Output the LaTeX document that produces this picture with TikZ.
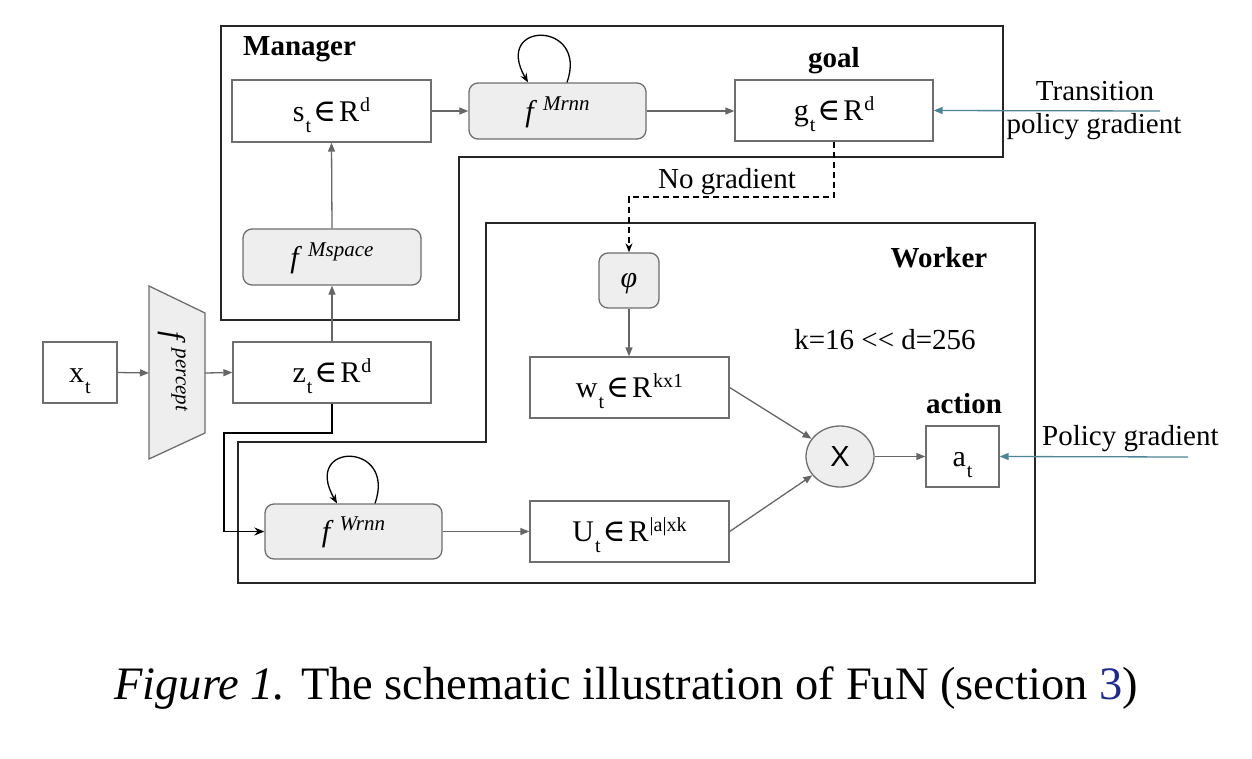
\documentclass[tikz,border=0pt]{standalone}
\usepackage{fontspec}
\setmainfont{Liberation Serif}
\newfontfamily\sansX{Liberation Sans}
\newfontfamily\symX{DejaVu Serif}
\usetikzlibrary{arrows.meta,shapes.geometric}
\definecolor{boxgray}{HTML}{6E6E6E}
\definecolor{fillgray}{HTML}{EEEEEE}
\definecolor{arrgray}{HTML}{666666}
\definecolor{pgblue}{HTML}{4E8494}
\definecolor{capblue}{HTML}{1F2A8A}
\newcommand{\mysub}[1]{\hspace{1pt}\raisebox{-11pt}{\fontsize{20}{20}\selectfont #1}}
\newcommand{\mysup}[1]{\hspace{1pt}\raisebox{10pt}{\fontsize{20}{20}\selectfont #1}}
\newcommand{\myin}{\hspace{2pt}{\symX\fontsize{31}{31}\selectfont ∈}\hspace{3pt}}
\newcommand{\fsup}[1]{\textit{f}\hspace{6pt}\raisebox{11pt}{\fontsize{21}{21}\selectfont\itshape #1}}
\tikzset{
  plainbox/.style={draw=boxgray, line width=1.3pt, fill=white, inner sep=0pt,
    font=\fontsize{30}{30}\selectfont, text height=20pt, text depth=0pt},
  rnnbox/.style={plainbox, fill=fillgray, rounded corners=9pt},
  arr/.style={draw=arrgray, line width=1.3pt, -{Triangle[length=9pt,width=7pt]}},
  gradarr/.style={draw=pgblue, line width=1.3pt, -{Triangle[length=9pt,width=7pt]}},
  mgrline/.style={draw=black!85, line width=1.8pt},
  looparr/.style={draw=black, line width=1.3pt, -{Stealth[length=9pt,width=7pt]}},
  lbl/.style={font=\fontsize{29}{29}\selectfont, anchor=base, inner sep=0pt},
  blbl/.style={font=\fontsize{29}{29}\selectfont\bfseries, anchor=base, inner sep=0pt},
}
\begin{document}
\begin{tikzpicture}[x=1pt, y=-1pt]
\useasboundingbox (0,0) rectangle (1252,758);

% containers
\draw[mgrline] (221,26) -- (1003,26) -- (1003,157) -- (459,157) -- (459,320) -- (221,320) -- cycle;
\draw[mgrline] (486,223) -- (1035,223) -- (1035,583) -- (238,583) -- (238,442) -- (486,442) -- cycle;

\node[blbl, anchor=base west] (mgr) at (243,55) {Manager};
\node[blbl] (goallbl) at (834,67) {goal};
\node[blbl] (wkr) at (939,267) {Worker};
\node[blbl] (actlbl) at (964,413) {action};

% manager nodes
\node[plainbox, minimum width=199pt, minimum height=62pt] (s) at (331.5,111) {s\mysub{t}\myin R\mysup{d}};
\node[rnnbox, minimum width=177pt, minimum height=56pt] (mrnn) at (557.5,111) {\fsup{Mrnn}};
\node[plainbox, minimum width=198pt, minimum height=61pt] (g) at (834,110.5) {g\mysub{t}\myin R\mysup{d}};
\node[rnnbox, minimum width=178pt, minimum height=56pt] (msp) at (332,257) {\fsup{Mspace}};

% input
\node[plainbox, minimum width=74pt, minimum height=61pt] (xt) at (80,372.5) {x\mysub{t}};
\draw[draw=boxgray, fill=fillgray, line width=1.3pt] (149,286) -- (205,313) -- (205,433) -- (149,459) -- cycle;
\node[rotate=-90, font=\fontsize{30}{30}\selectfont, inner sep=0pt] (ptxt) at (173,371) {\fsup{percept}};
\coordinate (pin) at (149,373);
\coordinate (pout) at (205,373);
\node[plainbox, minimum width=198pt, minimum height=61pt] (z) at (332,372.5) {z\mysub{t}\myin R\mysup{d}};

% worker nodes
\node[rnnbox, minimum width=60pt, minimum height=55pt, text height=14pt] (phi) at (629,280.5) {\itshape φ};
\node[plainbox, minimum width=199pt, minimum height=61pt] (w) at (629.5,387.5) {w\mysub{t}\myin R\mysup{kx1}};
\node[plainbox, minimum width=199pt, minimum height=61pt] (U) at (629.5,531.5) {U\mysub{t}\myin R\mysup{|a|xk}};
\node[rnnbox, minimum width=177pt, minimum height=55pt] (wrnn) at (353.5,531.5) {\fsup{Wrnn}};
\node[ellipse, draw=boxgray, fill=fillgray, line width=1.3pt, minimum width=68pt, minimum height=61pt, inner sep=0pt,
  font=\sansX\fontsize{29}{29}\selectfont] (X) at (840,456.5) {X};
\node[plainbox, minimum width=73pt, minimum height=61pt] (a) at (962.5,456.5) {a\mysub{t}};

\node[lbl] (kd) at (885,349) {k=16 <\kern0pt< d=256};
\node[lbl] (nog) at (727,188) {No gradient};
\node[lbl] (tr1) at (1095,100) {Transition};
\node[lbl] (tr2) at (1094,133) {policy gradient};
\node[lbl, anchor=base west] (pg) at (1042,445) {Policy gradient};

% connectors
\draw[arr] (xt.east) -- (pin);
\draw[arr] (pout) -- (z.west);
\draw[arr] (z.north) -- (msp.south);
\draw[arr] (msp.north) -- (s.south);
\draw[arr] (s.east) -- (mrnn.west);
\draw[arr] (mrnn.east) -- (g.west |- mrnn.east);
\draw[arr] (phi.south) -- (phi.south |- w.north);
\draw[arr] (wrnn.east) -- (U.west);
\draw[arr] (w.east) -- (X);
\draw[arr] (U.east) -- (X);
\draw[arr] (X.east) -- (a.west);

\coordinate (nd) at (700,197);
\draw[black, line width=1.3pt, dash pattern=on 6pt off 4pt, -{Stealth[length=9pt,width=7pt]}] (g.south) |- (nd) -| (phi.north);

\coordinate (zc) at (224,433);
\draw[black, line width=1.8pt, -{Stealth[length=10pt,width=8pt]}] (z.south) |- (zc) |- (wrnn.west);

\coordinate (tg) at (1160,111);
\draw[gradarr] (tg) -- (g.east);
\coordinate (pgc) at (1188,457);
\draw[gradarr] (pgc) -- (a.east);

% self loops
\draw[looparr] ([xshift=9.5pt]mrnn.north) .. controls +(22,-62) and +(-36,-62) .. ([xshift=-29.5pt]mrnn.north);
\draw[looparr] ([xshift=21.5pt]wrnn.north) .. controls +(22,-62) and +(-36,-62) .. ([xshift=-16.5pt]wrnn.north);

% caption
\node[font=\fontsize{46.5}{46.5}\selectfont, anchor=base, inner sep=0pt] (cap) at (626,699)
  {\textit{Figure 1.} The schematic illustration of FuN (section \textcolor{capblue}{3})};
\end{tikzpicture}
\end{document}
